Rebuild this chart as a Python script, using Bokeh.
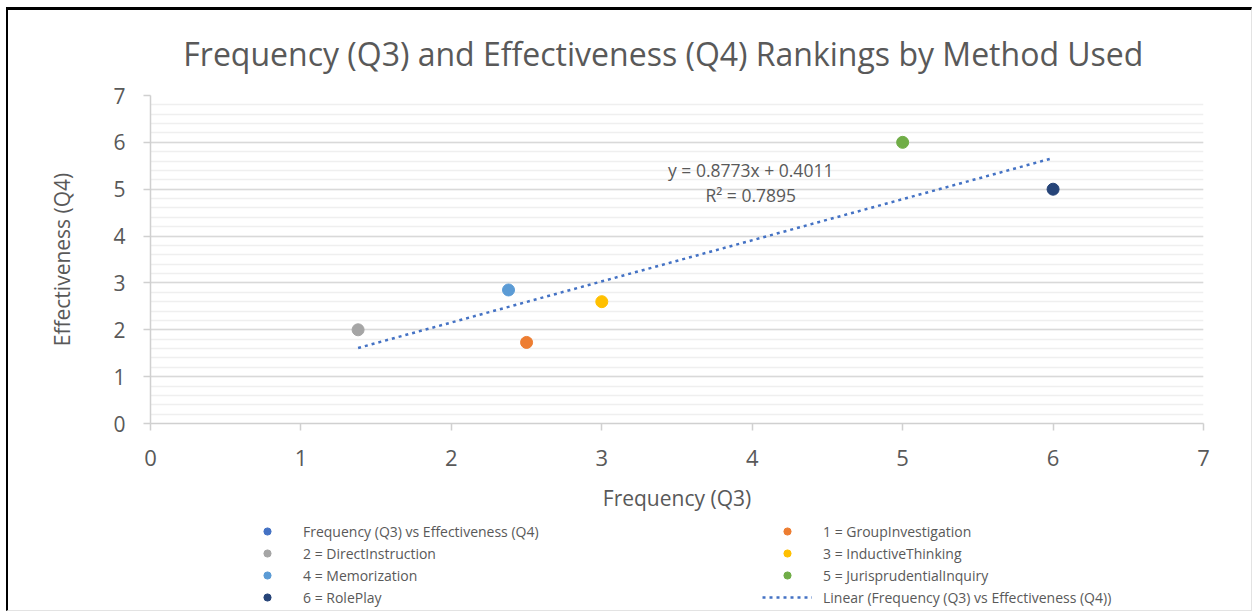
from bokeh.plotting import figure
from bokeh.layouts import column
from bokeh.models import (ColumnDataSource, SingleIntervalTicker, Legend,
                          LegendItem, Label, Range1d)
from bokeh.embed import file_html
from bokeh.resources import INLINE

# ---------------- data ----------------
title_text = "Frequency (Q3) and Effectiveness  (Q4) Rankings by Method Used"
x_label = "Frequency (Q3)"
y_label = "Effectiveness (Q4)"
series_name = "Frequency (Q3) vs Effectiveness (Q4)"
trend_name = "Linear (Frequency (Q3) vs Effectiveness (Q4))"

methods = ["1 = GroupInvestigation", "2 = DirectInstruction",
           "3 = InductiveThinking", "4 = Memorization",
           "5 = JurisprudentialInquiry", "6 = RolePlay"]
frequency_q3 = [2.5, 1.38, 3.0, 2.38, 5.0, 6.0]
effectiveness_q4 = [1.73, 2.0, 2.6, 2.85, 6.0, 5.0]
point_colors = ["#ED7D31", "#A5A5A5", "#FFC000", "#5B9BD5", "#70AD47", "#264478"]
series_color = "#4472C4"

trend_slope = 0.8773
trend_intercept = 0.4011
trend_r2 = 0.7895

axis_min, axis_max = 0, 7

# ---------------- styling ----------------
FONT = "Open Sans"
TXT = "#595959"
W = 1243
NAN = float("nan")


def strip(height):
    f = figure(width=W, height=height, x_range=Range1d(0, 1), y_range=Range1d(0, 1),
               output_backend="svg", toolbar_location=None, min_border=0,
               x_axis_location=None, y_axis_location=None)
    f.grid.visible = False
    f.outline_line_color = None
    f.background_fill_color = "white"
    f.border_fill_color = "white"
    return f


# ---------------- title strip ----------------
tt = strip(70)
tt.add_layout(Label(x=517, y=27, x_units="screen", y_units="screen",
                    text=title_text, text_align="center", text_baseline="middle",
                    text_font=FONT, text_font_size="32px", text_color=TXT))

# ---------------- main plot ----------------
p = figure(width=W, height=440,
           x_range=Range1d(axis_min, axis_max), y_range=Range1d(axis_min, axis_max),
           output_backend="svg", toolbar_location=None,
           min_border_left=142, min_border_right=48,
           min_border_top=15, min_border_bottom=97)
p.outline_line_color = None
p.background_fill_color = "white"
p.border_fill_color = "white"

ticker = SingleIntervalTicker(interval=1, num_minor_ticks=5)
p.xaxis.ticker = ticker
p.yaxis.ticker = ticker
p.ygrid.ticker = ticker
p.xgrid.grid_line_color = None
p.ygrid.grid_line_color = "#D9D9D9"
p.ygrid.grid_line_width = 1.5
p.ygrid.minor_grid_line_color = "#EFEFEF"
p.ygrid.minor_grid_line_width = 1.5

for ax in (p.xaxis[0], p.yaxis[0]):
    ax.axis_line_color = "#D0D0D0"
    ax.axis_line_width = 1.5
    ax.major_tick_line_color = "#D0D0D0"
    ax.major_tick_line_width = 1.5
    ax.major_tick_out = 7
    ax.major_tick_in = 0
    ax.minor_tick_line_color = None
    ax.major_label_text_font = FONT
    ax.major_label_text_color = TXT
    ax.axis_label_text_font = FONT
    ax.axis_label_text_color = TXT
    ax.axis_label_text_font_style = "normal"
    ax.axis_label_text_font_size = "21px"

p.xaxis.axis_label = x_label
p.yaxis.axis_label = y_label
p.xaxis.major_label_text_font_size = "22px"
p.yaxis.major_label_text_font_size = "21px"
p.xaxis.major_label_standoff = 19
p.yaxis.major_label_standoff = 18
p.xaxis.axis_label_standoff = 15
p.yaxis.axis_label_standoff = 34

src = ColumnDataSource(dict(freq=frequency_q3, eff=effectiveness_q4,
                            color=point_colors, method=methods))

trend_x = [min(frequency_q3), max(frequency_q3)]
trend_y = [trend_slope * v + trend_intercept for v in trend_x]
trend_kw = dict(line_color=series_color, line_width=2.5, line_dash="3 4")
p.line(trend_x, trend_y, **trend_kw)

p.scatter("freq", "eff", source=src, size=12, fill_color="color", line_color="color")

p.add_layout(Label(x=3.99, y=5.40, text=f"y = {trend_slope}x + {trend_intercept}",
                   text_align="center", text_baseline="middle",
                   text_font=FONT, text_font_size="17.5px", text_color=TXT))
p.add_layout(Label(x=3.99, y=4.87, text=f"R\u00b2 = {trend_r2}",
                   text_align="center", text_baseline="middle",
                   text_font=FONT, text_font_size="17.5px", text_color=TXT))

# ---------------- legend strip ----------------
lg = strip(90)


def swatch(color):
    return lg.scatter(x=[NAN], y=[NAN], size=10, fill_color=color, line_color=color)


series_r = swatch(series_color)
method_r = [swatch(c) for c in point_colors]
trend_r = lg.line(x=[NAN, NAN], y=[NAN, NAN], **trend_kw)


def make_legend(items, loc):
    return Legend(items=items, location=loc, orientation="vertical",
                  padding=0, margin=0, spacing=0,
                  border_line_color=None, background_fill_alpha=0,
                  glyph_width=50, glyph_height=18, label_height=22,
                  label_standoff=11,
                  label_text_font=FONT, label_text_font_size="14px",
                  label_text_color=TXT)


left_items = [LegendItem(label=series_name, renderers=[series_r]),
              LegendItem(label=methods[1], renderers=[method_r[1]]),
              LegendItem(label=methods[3], renderers=[method_r[3]]),
              LegendItem(label=methods[5], renderers=[method_r[5]])]
right_items = [LegendItem(label=methods[0], renderers=[method_r[0]]),
               LegendItem(label=methods[2], renderers=[method_r[2]]),
               LegendItem(label=methods[4], renderers=[method_r[4]]),
               LegendItem(label=trend_name, renderers=[trend_r])]

lg.add_layout(make_legend(left_items, (92, 2)))
lg.add_layout(make_legend(right_items, (612, 2)))

layout = column(tt, p, lg, spacing=0,
                styles={"margin-top": "7px", "margin-left": "6px",
                        "border-top": "3px solid black", "border-left": "2px solid black",
                        "border-right": "1px solid #E3E3E3",
                        "border-bottom": "1px solid #E3E3E3"})

open("out.html", "w").write(file_html(layout, INLINE))
